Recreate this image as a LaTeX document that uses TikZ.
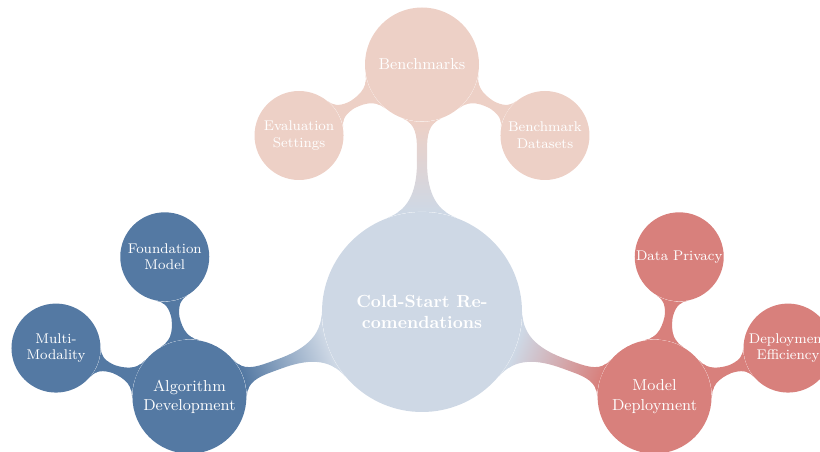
\documentclass[tikz,border=0pt]{standalone}
\usetikzlibrary{mindmap}

\definecolor{coldcol}{RGB}{206,216,229}
\definecolor{benchcol}{RGB}{237,208,198}
\definecolor{algocol}{RGB}{84,121,163}
\definecolor{deploycol}{RGB}{216,128,124}

\tikzset{
  topic/.style={circle, fill=#1, text=white, align=center, inner sep=0pt},
  rootnode/.style={topic=coldcol, minimum size=4cm, font=\bfseries},
  mainnode/.style={topic=#1, minimum size=2.28cm, font=\small},
  subnode/.style={topic=#1, minimum size=1.78cm, font=\footnotesize},
}

\begin{document}
\begin{tikzpicture}
    \path[clip, use as bounding box] (-8.44,-2.8) rectangle (7.96,6.24);
    % root and main branches
    \node[rootnode] (cold) at (0,0) {Cold-Start Re-\\comendations};
    \node[mainnode=benchcol] (bench) at ([shift={(90:4.95)}]cold) {Benchmarks};
    \node[mainnode=algocol] (algo) at ([shift={(200:4.95)}]cold) {Algorithm\\Development};
    \node[mainnode=deploycol] (deploy) at ([shift={(-20:4.95)}]cold) {Model\\Deployment};
    % leaves
    \node[subnode=benchcol] (evalset) at ([shift={(210:2.84)}]bench) {Evaluation\\Settings};
    \node[subnode=benchcol] (benchdata) at ([shift={(-30:2.84)}]bench) {Benchmark\\Datasets};
    \node[subnode=algocol] (found) at ([shift={(100:2.84)}]algo) {Foundation\\Model};
    \node[subnode=algocol] (multi) at ([shift={(160:2.84)}]algo) {Multi-\\Modality};
    \node[subnode=deploycol] (privacy) at ([shift={(80:2.84)}]deploy) {Data Privacy};
    \node[subnode=deploycol] (effic) at ([shift={(20:2.84)}]deploy) {Deployment\\Efficiency};
    % connection bars
    \path (cold) to[circle connection bar switch color=from (coldcol) to (benchcol)] (bench);
    \path (cold) to[circle connection bar switch color=from (coldcol) to (algocol)] (algo);
    \path (cold) to[circle connection bar switch color=from (coldcol) to (deploycol)] (deploy);
    \path (bench) to[circle connection bar switch color=from (benchcol) to (benchcol)] (evalset);
    \path (bench) to[circle connection bar switch color=from (benchcol) to (benchcol)] (benchdata);
    \path (algo) to[circle connection bar switch color=from (algocol) to (algocol)] (found);
    \path (algo) to[circle connection bar switch color=from (algocol) to (algocol)] (multi);
    \path (deploy) to[circle connection bar switch color=from (deploycol) to (deploycol)] (privacy);
    \path (deploy) to[circle connection bar switch color=from (deploycol) to (deploycol)] (effic);
\end{tikzpicture}
\end{document}
